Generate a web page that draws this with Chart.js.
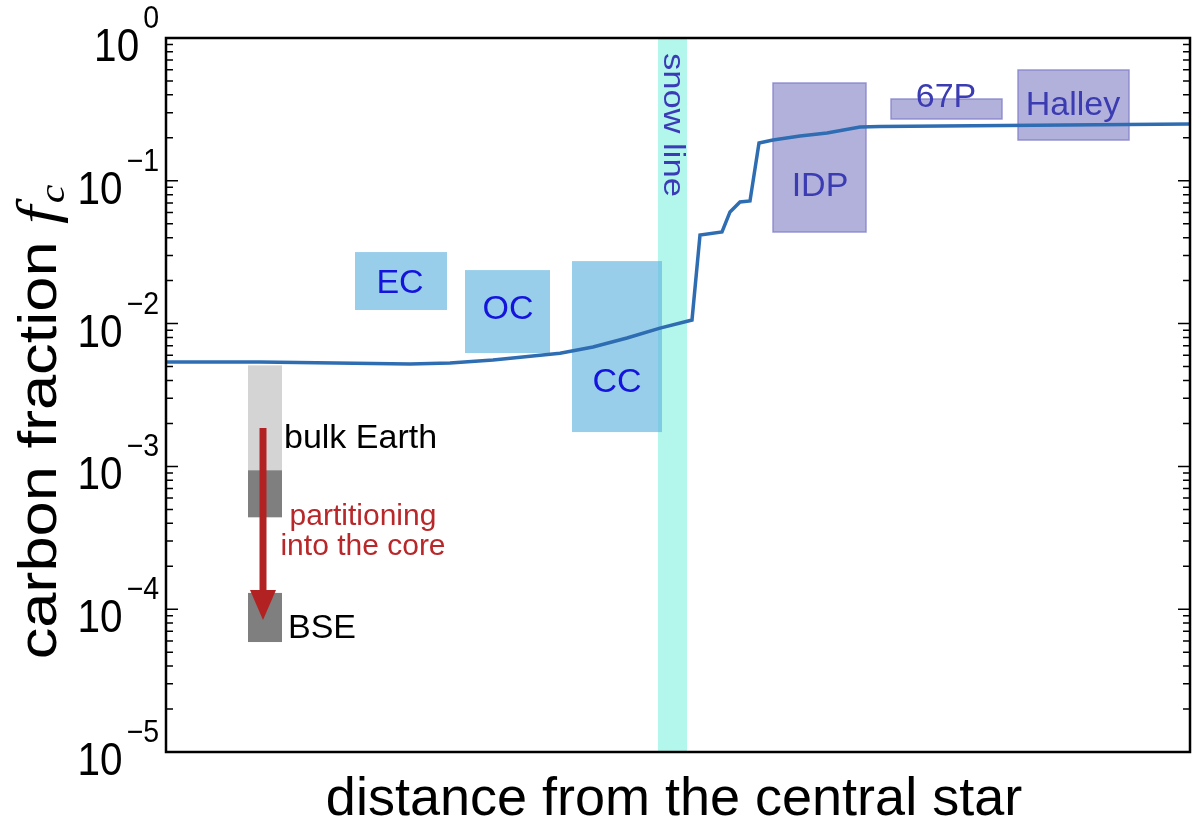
<!DOCTYPE html>
<html>
<head>
<meta charset="utf-8">
<script src="https://cdn.jsdelivr.net/npm/chart.js@4.4.1/dist/chart.umd.min.js"></script>
<style>
  body { margin: 0; background: #fff; }
  #wrap { width: 1200px; height: 824px; }
</style>
</head>
<body>
<div id="wrap"><canvas id="fcChart"></canvas></div>
<script>
// ---- data (x = distance, arbitrary units 0..1024) ----
const distance = [0, 94, 244, 284, 327, 394, 427, 461, 494, 526, 534, 556, 564, 574, 584, 593, 607, 634, 661, 694, 714, 1024];
const carbonFraction = [0.00538, 0.00538, 0.00521, 0.0053, 0.00556, 0.0062, 0.00686, 0.00793, 0.0093, 0.0106, 0.0417, 0.0438, 0.0605, 0.0711, 0.0722, 0.184, 0.193, 0.206, 0.216, 0.238, 0.240, 0.250];

// meteorites / comets ranges
const sampleNames = ["EC", "OC", "CC", "IDP", "67P", "Halley"];
const sampleXFrom = [189, 299, 406, 607, 725, 852];
const sampleXTo = [281, 384, 496, 700, 836, 963];
const sampleLow = [0.01245, 0.00622, 0.00174, 0.0438, 0.271, 0.193];
const sampleHigh = [0.0317, 0.0237, 0.0274, 0.484, 0.374, 0.597];

// Earth ranges (bulk Earth, bulk Earth lower part, BSE)
const earthLow = [0.00094, 0.00044, 0.0000589];
const earthHigh = [0.0051, 0.00094, 0.00013];
const earthX = [82, 116];
const arrowFrom = 0.00186;
const arrowTo = 0.000084;

const snowLine = [492, 521];
const decades = [-5, -4, -3, -2, -1, 0];

// ---- annotation placement ----
const sampleLabelAt = {
    EC: [234, 0.0189], OC: [342, 0.01246], CC: [451, 0.00384],
    IDP: [654, 0.0905], "67P": [780, 0.38], Halley: [907, 0.334]
};

const SANS = '"Liberation Sans", Arial, Helvetica, sans-serif';

function txt(ctx, s, x, y, font, color, align, sx, base) {
    ctx.save();
    ctx.translate(x, y);
    ctx.scale(sx || 1, 1);
    ctx.font = font;
    ctx.fillStyle = color;
    ctx.textAlign = align || "center";
    ctx.textBaseline = base || "alphabetic";
    ctx.fillText(s, 0, 0);
    ctx.restore();
}

const decor = {
    id: "decor",
    beforeDatasetsDraw(chart) {
        const ctx = chart.ctx, xs = chart.scales.x, ys = chart.scales.y, a = chart.chartArea;
        ctx.save();

        // snow line band
        const s0 = xs.getPixelForValue(snowLine[0]), s1 = xs.getPixelForValue(snowLine[1]);
        ctx.fillStyle = "rgb(178,246,236)";
        ctx.fillRect(s0, a.top, s1 - s0, a.bottom - a.top);

        // sample boxes
        sampleNames.forEach((n, i) => {
            const x0 = xs.getPixelForValue(sampleXFrom[i]), x1 = xs.getPixelForValue(sampleXTo[i]);
            const y0 = ys.getPixelForValue(sampleHigh[i]), y1 = ys.getPixelForValue(sampleLow[i]);
            if (i < 3) {
                ctx.fillStyle = "rgba(100,180,225,0.66)";
                ctx.fillRect(x0, y0, x1 - x0, y1 - y0);
            } else {
                ctx.fillStyle = "rgba(102,100,186,0.5)";
                ctx.fillRect(x0, y0, x1 - x0, y1 - y0);
                ctx.strokeStyle = "rgba(130,128,200,0.8)";
                ctx.lineWidth = 1.5;
                ctx.strokeRect(x0, y0, x1 - x0, y1 - y0);
            }
        });

        // Earth boxes
        const ex0 = xs.getPixelForValue(earthX[0]), ex1 = xs.getPixelForValue(earthX[1]);
        const earthColors = ["#d4d4d4", "#7f7f7f", "#7f7f7f"];
        earthLow.forEach((v, i) => {
            const y0 = ys.getPixelForValue(earthHigh[i]), y1 = ys.getPixelForValue(v);
            ctx.fillStyle = earthColors[i];
            ctx.fillRect(ex0, y0, ex1 - ex0, y1 - y0);
        });
        ctx.restore();
    },
    afterDatasetsDraw(chart) {
        const ctx = chart.ctx, xs = chart.scales.x, ys = chart.scales.y, a = chart.chartArea;
        ctx.save();

        // sample labels
        sampleNames.forEach((n, i) => {
            const p = sampleLabelAt[n];
            const col = i < 3 ? "#1414dc" : "#3b3bb2";
            txt(ctx, n, xs.getPixelForValue(p[0]), ys.getPixelForValue(p[1]), "34px " + SANS, col, "center", 1, "middle");
        });

        // snow line text
        ctx.save();
        ctx.translate((xs.getPixelForValue(snowLine[0]) + xs.getPixelForValue(snowLine[1])) / 2, a.top + 15);
        ctx.rotate(Math.PI / 2);
        ctx.scale(1.15, 1);
        ctx.font = "30px " + SANS;
        ctx.fillStyle = "#3b3bb8";
        ctx.textAlign = "left";
        ctx.textBaseline = "middle";
        ctx.fillText("snow line", 0, 0);
        ctx.restore();

        // arrow
        const ax = xs.getPixelForValue((earthX[0] + earthX[1]) / 2 - 2);
        const ay0 = ys.getPixelForValue(arrowFrom), ay1 = ys.getPixelForValue(arrowTo);
        ctx.strokeStyle = "#b22222";
        ctx.fillStyle = "#b22222";
        ctx.lineWidth = 7;
        ctx.beginPath();
        ctx.moveTo(ax, ay0);
        ctx.lineTo(ax, ay1 - 28);
        ctx.stroke();
        ctx.beginPath();
        ctx.moveTo(ax - 13, ay1 - 30);
        ctx.lineTo(ax + 13, ay1 - 30);
        ctx.lineTo(ax, ay1);
        ctx.closePath();
        ctx.fill();

        // Earth labels
        txt(ctx, "bulk Earth", xs.getPixelForValue(earthX[1]) + 2, ys.getPixelForValue(0.001345), "34px " + SANS, "#000", "left");
        txt(ctx, "BSE", xs.getPixelForValue(earthX[1]) + 6, ys.getPixelForValue(0.0000628), "34px " + SANS, "#000", "left");
        const px = xs.getPixelForValue(197);
        txt(ctx, "partitioning", px, ys.getPixelForValue(0.000389), "30px " + SANS, "#b8282a", "center");
        txt(ctx, "into the core", px, ys.getPixelForValue(0.00024), "30px " + SANS, "#b8282a", "center");

        // frame
        ctx.strokeStyle = "#000";
        ctx.lineWidth = 2.5;
        ctx.strokeRect(a.left, a.top, a.right - a.left, a.bottom - a.top);

        // inward ticks on both y sides
        ctx.lineWidth = 1.5;
        for (let e = decades[0]; e <= decades[decades.length - 1]; e++) {
            for (let m = 1; m <= 9; m++) {
                const v = m * Math.pow(10, e);
                if (v > 1.0000001) break;
                const y = ys.getPixelForValue(v);
                const len = m === 1 ? 12 : 7;
                ctx.beginPath();
                ctx.moveTo(a.left, y); ctx.lineTo(a.left + len, y);
                ctx.moveTo(a.right, y); ctx.lineTo(a.right - len, y);
                ctx.stroke();
                if (e === 0) break;
            }
        }

        // tick labels 10^n
        decades.forEach(e => {
            const y = ys.getPixelForValue(Math.pow(10, e));
            const ex = e === 0 ? "0" : "\u2212" + (-e);
            ctx.font = "31px " + SANS;
            const we = ctx.measureText(ex).width * 0.92;
            const right = a.left - 7;
            txt(ctx, ex, right, y - 10, "31px " + SANS, "#000", "right", 0.92);
            txt(ctx, "10", right - we - 4, y + 23, "46px " + SANS, "#000", "right", 0.88);
        });

        // x title
        txt(ctx, "distance from the central star", (a.left + a.right) / 2 - 4, 815, "54px " + SANS, "#000", "center");

        // y title with f_c
        ctx.save();
        ctx.translate(56, 422);
        ctx.rotate(-Math.PI / 2);
        ctx.scale(1.17, 1);
        const f1 = "54px " + SANS, f2 = "italic 56px \"Liberation Serif\", \"DejaVu Serif\", serif", f3 = "italic 36px \"Liberation Serif\", \"DejaVu Serif\", serif";
        ctx.font = f1; const w1 = ctx.measureText("carbon fraction ").width;
        ctx.font = f2; const w2 = ctx.measureText("f").width + 2;
        ctx.font = f3; const w3 = ctx.measureText("c").width;
        let x = -(w1 + w2 + w3) / 2;
        ctx.fillStyle = "#000";
        ctx.textAlign = "left";
        ctx.textBaseline = "alphabetic";
        ctx.font = f1; ctx.fillText("carbon fraction ", x, 0); x += w1;
        ctx.font = f2; ctx.fillText("f", x, 0); x += w2;
        ctx.font = f3; ctx.fillText("c", x, 8);
        ctx.restore();

        ctx.restore();
    }
};

new Chart(document.getElementById("fcChart"), {
    type: "line",
    data: {
        datasets: [{
            label: "carbon fraction",
            data: distance.map((d, i) => ({ x: d, y: carbonFraction[i] })),
            borderColor: "#2f6db2",
            borderWidth: 3.5,
            pointRadius: 0,
            tension: 0,
            fill: false
        }]
    },
    options: {
        responsive: true,
        maintainAspectRatio: false,
        animation: false,
        layout: { padding: { top: 38, right: 10, left: 0, bottom: 0 } },
        plugins: { legend: { display: false }, tooltip: { enabled: false } },
        scales: {
            x: {
                type: "linear",
                min: 0,
                max: 1024,
                grid: { display: false },
                border: { display: false },
                ticks: { display: false },
                afterFit: s => { s.height = 72; }
            },
            y: {
                type: "logarithmic",
                min: 1e-5,
                max: 1,
                grid: { display: false },
                border: { display: false },
                ticks: { display: false },
                afterFit: s => { s.width = 166; }
            }
        }
    },
    plugins: [decor]
});
</script>
</body>
</html>
